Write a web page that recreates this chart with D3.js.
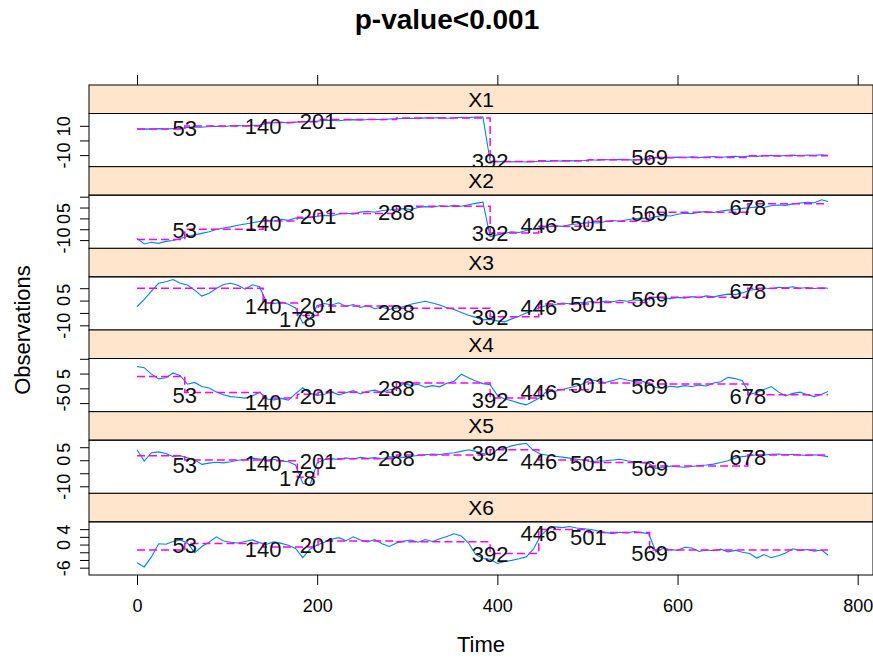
<!DOCTYPE html>
<html>
<head>
<meta charset="utf-8">
<script src="https://cdn.jsdelivr.net/npm/d3@7"></script>
<style>
body { margin: 0; background: #fff; }
svg { font-family: "Liberation Sans", Arial, sans-serif; }
</style>
</head>
<body>
<div id="chart"></div>
<script>
var time = d3.range(0, 768, 8).concat([767]);
var cpts = [53, 140, 178, 201, 288, 392, 446, 501, 569, 678];
var names = ["X1", "X2", "X3", "X4", "X5", "X6"];
var xTicks = [0, 200, 400, 600, 800];

var x1 = [7.6, 7.9, 7.7, 8.1, 7.8, 8.2, 8.0,
    8.9, 9.2, 9.0, 9.5, 9.7, 9.4, 10.0, 10.2, 9.9, 10.4, 10.3,
    11.8, 12.1, 12.4, 12.0, 12.5,
    12.8, 13.0, 13.2,
    13.6, 13.9, 13.5, 14.0, 14.2, 13.8, 14.3, 14.5, 14.1, 14.6, 14.8,
    15.0, 15.2, 14.9, 15.4, 15.3, 15.6, 15.2, 15.5, 15.8, 15.6, 16.0, 15.9,
    -14.2, -14.5, -14.3, -14.6, -14.4, -14.7, -14.5,
    -14.0, -14.3, -13.9, -14.1, -13.8, -14.0, -13.7,
    -13.2, -13.5, -13.0, -13.3, -12.9, -13.1, -13.4, -12.8, -12.6,
    -11.8, -11.5, -11.9, -11.4, -11.6, -11.2, -11.7, -11.3, -11.0, -11.5, -11.1, -10.8, -11.2,
    -10.6, -10.9, -10.4, -10.2, -10.7, -10.3, -10.0, -10.4, -9.9, -10.2, -9.8, -10.1];
var x2 = [-9.2, -11.8, -11.0, -11.5, -10.6, -10.2, -9.3,
    -8.2, -7.6, -6.9, -6.2, -5.1, -4.4, -3.9, -3.2, -2.6, -2.0, -1.4,
    -0.8, -1.2, -0.4, -0.9, 0.2,
    0.0, 0.6, 1.0,
    1.4, 1.1, 2.0, 2.4, 2.1, 2.9, 3.3, 2.8, 3.6, 3.9, 4.2,
    4.5, 4.1, 5.0, 5.4, 5.1, 5.8, 5.5, 6.0, 5.6, 6.3, 6.9, 7.5,
    -8.4, -7.6, -6.9, -6.2, -6.5, -5.6, -5.0,
    -4.2, -3.9, -3.4, -3.7, -2.9, -2.6, -2.2,
    -1.9, -2.1, -1.4, -1.0, -1.3, -0.6, -0.2, 0.1, -0.1,
    0.8, 1.3, 1.1, 1.9, 2.4, 2.2, 2.9, 3.1, 2.7, 3.4, 3.8, 4.1, 4.6,
    4.9, 5.3, 5.0, 5.8, 6.2, 6.0, 6.7, 7.1, 7.4, 7.2, 8.6, 7.8];
var x3 = [-2.5, 0.5, 3.8, 7.0, 7.6, 8.5, 7.0,
    6.3, 4.2, 1.8, 3.0, 4.9, 6.5, 7.0, 6.2, 4.6, 6.4, 5.6,
    -0.8, -1.3, -0.6, -1.5, -3.0,
    -9.2, -7.5, -2.0,
    -1.2, -1.8, -0.9, -2.4, -1.6, -2.8, -2.0, -3.3, -2.6, -3.6, -3.0,
    -2.4, -1.5, -0.9, -0.3, -1.0, -1.8, -2.9, -3.6, -4.8, -5.9, -6.8, -7.8,
    -7.6, -8.2, -8.6, -7.4, -6.3, -5.0, -4.1,
    -2.6, -2.0, -1.6, -1.0, -1.3, -0.7, -0.9,
    -0.4, -0.8, -0.2, -0.5, 0.1, -0.3, 0.3, 0.0, 0.6,
    1.4, 1.0, 0.8, 1.3, 1.0, 1.6, 1.2, 1.9, 1.5, 2.1, 2.6, 2.4, 3.1,
    4.2, 4.6, 5.1, 4.8, 5.4, 5.2, 5.6, 5.0, 5.3, 4.9, 5.2, 5.0];
var x4 = [7.4, 7.0, 4.8, 3.2, 3.6, 5.2, 4.3,
    1.4, 2.0, 0.6, 0.1, -1.2, -2.2, -2.8, -3.0, -3.3, -2.6, -1.3,
    -3.6, -3.9, -3.4, -4.0, -1.8,
    0.2, -1.6, -2.4,
    -2.0, -1.2, -2.2, -1.5, -0.8, -1.9, -1.0, -0.6, -1.4, -0.5, -0.3,
    1.6, 1.0, 1.4, 0.4, 0.9, 0.5, 1.7, 2.4, 4.8, 3.6, 2.5, 1.6,
    1.2, -2.4, -3.6, -4.2, -5.0, -5.6, -4.4,
    -3.0, -0.7, -1.0, -0.4, 0.2, 0.8, 1.6,
    2.9, 2.4, 2.0, 2.6, 3.4, 2.8, 2.3, 2.6, 1.4,
    0.3, 0.1, 0.7, 0.4, 0.9, 0.6, 1.1, 0.8, 1.8, 2.2, 3.7, 3.3, 2.6,
    -2.0, -1.4, -0.4, 0.6, -1.2, -2.6, -1.7, -1.3, -2.2, -2.8, -2.0, -1.1];
var x5 = [4.0, -0.3, 2.9, 3.2, 2.6, 1.4, 1.7,
    0.9, 0.2, -1.6, -1.1, -0.8, -1.0, -0.6, 0.0, 0.3, 0.8, 0.5,
    0.1, 0.4, -0.3, -0.6, -1.8,
    -8.8, -9.6, -1.0,
    0.2, 0.6, 0.3, 0.9, 0.5, 1.1, 0.7, 1.0, 0.6, 1.3, 1.2,
    1.1, 1.5, 1.8, 2.1, 2.4, 2.2, 2.6, 2.9, 3.4, 4.0, 3.4, 2.6,
    2.0, 4.0, 4.6, 5.5, 6.1, 6.5, 3.8,
    2.4, 1.9, 1.5, 1.2, 0.8, 0.4, 0.1,
    -0.5, -0.3, -0.2, 0.1, 0.4, -0.2, -0.7, -0.9, -1.2,
    -3.1, -2.8, -2.2, -2.5, -2.7, -2.4, -2.0, -1.8, -1.5, -0.9, -0.2, 0.8, 1.4,
    1.7, 2.1, 2.0, 2.3, 2.4, 2.1, 2.3, 2.0, 1.8, 2.1, 1.7, 1.4];
var x6 = [-4.7, -5.8, -3.2, 0.2, 0.1, 0.8, 1.2,
    0.4, -2.1, -0.5, 0.6, 2.0, 0.9, 0.6, 0.4, 0.8, 1.2, 0.5,
    0.1, 0.7, 0.3, -0.2, -1.0,
    -3.4, -1.2, -0.1,
    0.6, 1.4, 1.8, 1.0, 2.0, 1.2, 0.7, 1.3, 0.2, -0.5, 0.4,
    0.9, 1.2, 0.6, 1.3, 0.8, 1.5, 2.1, 2.8, 2.2, 0.4, -2.6, -3.6,
    -3.8, -4.9, -4.4, -4.1, -3.7, -3.2, -1.2,
    2.3, 4.0, 4.6, 4.4, 4.7, 4.3, 4.1,
    3.9, 3.5, 3.1, 2.9, 3.2, 3.0, 3.4, 3.1, 2.8,
    -1.9, -1.0, -1.3, -1.5, -0.7, -0.9, -1.8, -1.4, -1.6, -1.2, -1.9, -1.5, -2.0,
    -2.3, -3.5, -2.6, -3.4, -2.9, -2.2, -1.1, -1.5, -1.3, -1.7, -1.4, -2.7];

// Segment means between changepoints (dashed step line)
var x1Means = [7.8, 9.8, 12.2, 12.8, 14.3, 15.3, -14.3, -13.8, -13.2, -11.6, -10.4];
var x2Means = [-9.7, -5.0, -1.2, 0.5, 2.3, 5.6, -6.7, -3.6, -1.3, 2.8, 6.7];
var x3Means = [5.0, 5.0, -1.0, -6.0, -2.2, -3.1, -6.5, -1.4, -0.8, 1.3, 5.0];
var x4Means = [4.0, -1.4, -3.3, -2.0, -1.3, 1.8, -3.3, -0.5, 1.8, 1.5, -2.2];
var x5Means = [1.7, 0.1, -0.2, -6.5, 0.6, 2.0, 4.0, 0.1, -0.9, -2.2, 2.0];
var x6Means = [-1.4, 0.3, -0.6, -0.6, 0.9, 0.7, -2.3, 3.9, 3.1, -1.4, -1.4];

// Changepoint labels shown in each panel and their heights
var x1Cp = [53, 140, 201, 392, 569];
var x1CpY = [8.5, 10.0, 13.0, -14.2, -11.5];
var x2Cp = [53, 140, 201, 288, 392, 446, 501, 569, 678];
var x2CpY = [-5.4, -2.3, 1.1, 3.1, -6.9, -3.0, -2.3, 2.4, 5.1];
var x3Cp = [140, 178, 201, 288, 392, 446, 501, 569, 678];
var x3CpY = [-2.2, -7.4, -1.8, -4.7, -6.5, -2.5, -1.5, 0.5, 4.0];
var x4Cp = [53, 140, 201, 288, 392, 446, 501, 569, 678];
var x4CpY = [-2.2, -4.5, -2.5, 0.1, -3.9, -1.1, 1.2, 0.6, -2.5];
var x5Cp = [53, 140, 178, 201, 288, 392, 446, 501, 569, 678];
var x5CpY = [-1.8, -1.2, -6.8, -0.3, 0.8, 2.7, -0.2, -1.2, -3.1, 1.2];
var x6Cp = [53, 140, 201, 392, 446, 501, 569];
var x6CpY = [-0.1, -1.2, -0.1, -2.5, 3.0, 2.0, -2.3];

// Free y scales per panel
var yDomains = [[-17.9, 18.4], [-13.8, 10.7], [-11.9, 9.6], [-7.9, 10.1], [-12.7, 7.7], [-7.9, 5.9]];
var yTicks = [[-10, 0, 10], [-10, -5, 0, 5, 10], [-10, -5, 0, 5], [-5, 0, 5, 10], [-10, -5, 0, 5], [-6, -4, -2, 0, 2, 4]];
var yTickLabels = [[-10, 10], [-10, 0, 5], [-10, 0, 5], [-5, 0, 5], [-10, 0, 5], [-6, 0, 4]];

var series = [x1, x2, x3, x4, x5, x6];
var means = [x1Means, x2Means, x3Means, x4Means, x5Means, x6Means];
var cpLabels = [x1Cp, x2Cp, x3Cp, x4Cp, x5Cp, x6Cp];
var cpLabelY = [x1CpY, x2CpY, x3CpY, x4CpY, x5CpY, x6CpY];

var width = 873, height = 659;
var plotLeft = 89, plotRight = 873, plotTop = 85, plotBottom = 575;
var stripH = 28.5;
var cellH = (plotBottom - plotTop) / names.length;

var svg = d3.select("#chart").append("svg")
    .attr("width", width)
    .attr("height", height);

var x = d3.scaleLinear().domain([-53.3, 817]).range([plotLeft, plotRight]);

//Title
svg.append("text")
    .attr("x", 447).attr("y", 29)
    .attr("text-anchor", "middle")
    .attr("font-size", "28px")
    .attr("font-weight", "bold")
    .text("p-value<0.001");

names.forEach(function (name, k) {
    var stripTop = plotTop + k * cellH;
    var pTop = stripTop + stripH;
    var pBottom = stripTop + cellH;

    var y = d3.scaleLinear().domain(yDomains[k]).range([pBottom, pTop]);
    var g = svg.append("g");

    //Strip
    g.append("rect")
        .attr("x", plotLeft).attr("y", stripTop)
        .attr("width", plotRight - plotLeft).attr("height", stripH)
        .attr("fill", "#ffe5cc").attr("stroke", "#000");
    g.append("text")
        .attr("x", (plotLeft + plotRight) / 2).attr("y", stripTop + stripH / 2)
        .attr("dy", "0.36em")
        .attr("text-anchor", "middle")
        .attr("font-size", "21px")
        .text(name);

    g.append("clipPath").attr("id", "clip" + k)
        .append("rect")
        .attr("x", plotLeft).attr("y", pTop)
        .attr("width", plotRight - plotLeft).attr("height", pBottom - pTop);

    //Observed series
    var line = d3.line()
        .x(function (d, i) { return x(time[i]); })
        .y(function (d) { return y(d); });
    g.append("path")
        .datum(series[k])
        .attr("clip-path", "url(#clip" + k + ")")
        .attr("fill", "none")
        .attr("stroke", "#0080ff")
        .attr("stroke-width", 1.1)
        .attr("d", line);

    //Segment means as a dashed step line
    var bounds = [0].concat(cpts);
    var steps = bounds.map(function (b, i) { return [b, means[k][i]]; });
    steps.push([767, means[k][means[k].length - 1]]);
    var stepLine = d3.line()
        .x(function (d) { return x(d[0]); })
        .y(function (d) { return y(d[1]); })
        .curve(d3.curveStepAfter);
    g.append("path")
        .datum(steps)
        .attr("clip-path", "url(#clip" + k + ")")
        .attr("fill", "none")
        .attr("stroke", "#ff00ff")
        .attr("stroke-width", 1.5)
        .attr("stroke-dasharray", "8,4")
        .attr("d", stepLine);

    //Changepoint labels
    g.selectAll(".cp")
        .data(cpLabels[k])
        .enter()
        .append("text")
        .attr("class", "cp")
        .attr("x", function (d) { return x(d); })
        .attr("y", function (d, i) { return y(cpLabelY[k][i]); })
        .attr("dy", "0.36em")
        .attr("text-anchor", "middle")
        .attr("font-size", "22px")
        .attr("fill", "#111")
        .text(function (d) { return d; });

    //Panel border
    g.append("rect")
        .attr("x", plotLeft).attr("y", pTop)
        .attr("width", plotRight - plotLeft).attr("height", pBottom - pTop)
        .attr("fill", "none").attr("stroke", "#000");

    //Y axis with rotated labels
    var yAxis = g.append("g")
        .attr("transform", "translate(" + plotLeft + ",0)")
        .call(d3.axisLeft(y)
            .tickValues(yTicks[k])
            .tickSize(9)
            .tickFormat(function (d) {
                return yTickLabels[k].indexOf(d) >= 0 ? String(d) : "";
            }));
    yAxis.select(".domain").remove();
    yAxis.selectAll("line").attr("stroke", "#000");
    yAxis.selectAll("text")
        .attr("x", null).attr("dy", null)
        .attr("text-anchor", "middle")
        .attr("font-size", "18px")
        .attr("font-family", "Liberation Sans, Arial, sans-serif")
        .attr("fill", "#000")
        .attr("transform", "translate(-19,0) rotate(-90)");
});

//Top ticks
var topAxis = svg.append("g")
    .attr("transform", "translate(0," + plotTop + ")")
    .call(d3.axisTop(x).tickValues(xTicks).tickSize(10).tickFormat(""));
topAxis.select(".domain").remove();

//Bottom axis
var xAxis = svg.append("g")
    .attr("transform", "translate(0," + plotBottom + ")")
    .call(d3.axisBottom(x).tickValues(xTicks).tickSize(10).tickPadding(14));
xAxis.select(".domain").remove();
xAxis.selectAll("text")
    .attr("font-size", "18px")
    .attr("font-family", "Liberation Sans, Arial, sans-serif")
    .attr("fill", "#000");

//Axis titles
svg.append("text")
    .attr("x", (plotLeft + plotRight) / 2).attr("y", 652)
    .attr("text-anchor", "middle")
    .attr("font-size", "22px")
    .text("Time");

svg.append("text")
    .attr("transform", "translate(30," + ((plotTop + plotBottom) / 2) + ") rotate(-90)")
    .attr("text-anchor", "middle")
    .attr("font-size", "22px")
    .text("Observations");
</script>
</body>
</html>
